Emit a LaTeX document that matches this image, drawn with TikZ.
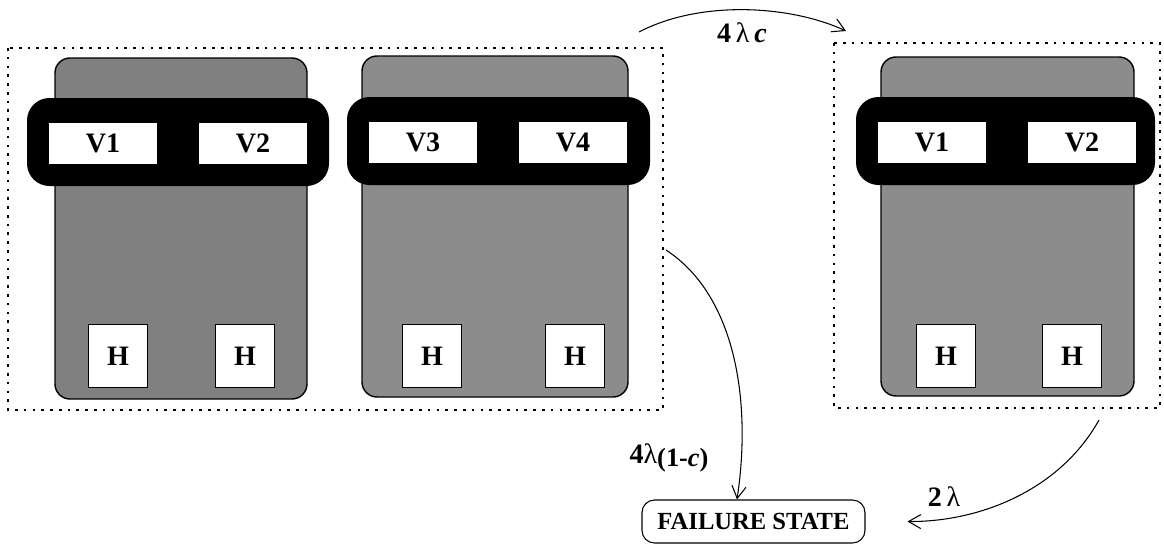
\documentclass[tikz,border=0pt]{standalone}
\usepackage{fontspec}
\setmainfont{Liberation Serif}
\usetikzlibrary{arrows.meta}
\tikzset{>={Straight Barb[length=7pt,width=8pt]},every node/.style={font=\fontsize{14}{16}\selectfont\bfseries},
board/.style={draw,line width=.8pt,fill=black!45,rounded corners=.3cm},band/.style={fill=black,rounded corners=.45cm},
vbox/.style={fill=white,inner sep=0,minimum width=2.16cm,minimum height=.82cm,font=\fontsize{16}{18}\selectfont\bfseries},
hbox/.style={draw,fill=white,line width=.6pt,inner sep=0,minimum width=1.18cm,minimum height=1.26cm,font=\fontsize{16}{18}\selectfont\bfseries},
statebox/.style={dash pattern=on 1.5pt off 3.5pt,line width=.6pt},trans/.style={->,line width=.6pt}}
\newcommand{\rate}{\fontsize{16}{18}\selectfont}

\begin{document}
\begin{tikzpicture}[x=.02cm,y=-.02cm]
\useasboundingbox (0,0) rectangle (1164,545);
\draw[statebox] (8,48) rectangle (663,410);
\draw[statebox] (834,43) rectangle (1160,408);
\foreach \n/\g/\l/\r/\t/\b/\bl/\br/\bt/\xa/\xb/\la/\lb/\ha/\hb in {1/50/55/307/58/399/27/329/98/103/253/V1/V2/118/245,2/45/362/628/56/397/347/650/97/423/573/V3/V4/432/575,3/45/881/1134/57/396/856/1155/97/932/1082/V1/V2/946/1072}{
\draw[board,fill=black!\g] (\l,\t) rectangle (\r,\b);\fill[band] (\bl,\bt) rectangle (\br,\bt+88);
\node[vbox] (v\n a) at (\xa,\bt+45) {\la};\node[vbox] (v\n b) at (\xb,\bt+45) {\lb};
\node[hbox] (h\n a) at (\ha,356) {H};\node[hbox] (h\n b) at (\hb,356) {H};}
\node[draw,rounded corners=.25cm,line width=.6pt,inner sep=0,minimum width=4.46cm,minimum height=.86cm] (fail) at (753.5,521.5) {FAILURE STATE};
\coordinate (cs) at (639,32);\coordinate (ct) at (846,31);
\coordinate (fs) at (666,250);\coordinate (ds) at (1099,420);
\draw[trans] (cs)..controls (700,0) and (790,5)..(ct);
\draw[trans] (fs)..controls (735,295) and (752,400)..([xshift=-.33cm]fail.north);
\draw[trans] (ds)..controls (1060,490) and (980,522)..([xshift=.84cm]fail.east);
\node (rc) at (742,33) {\rate 4\,{\mdseries λ}\,\textit{c}};
\node (rfail) at (669,458) {\rate 4{\mdseries λ}\raisebox{-1.5pt}{\fontsize{15}{17}\selectfont(1-\textit{c})}};
\node (rtwo) at (944,497) {\rate 2\,{\mdseries λ}};
\end{tikzpicture}
\end{document}
